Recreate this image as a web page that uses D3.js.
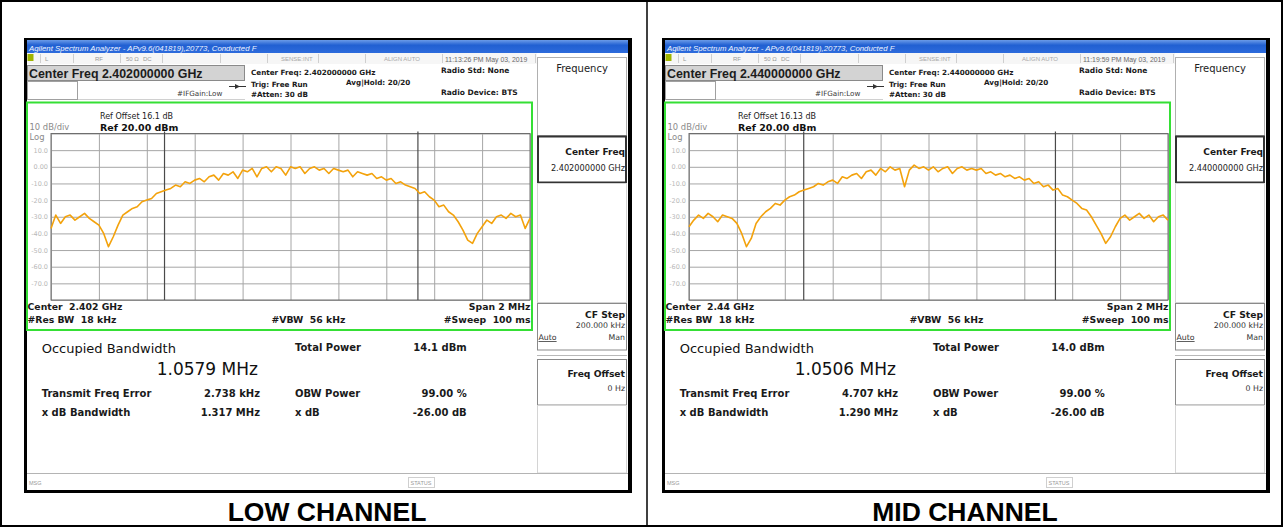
<!DOCTYPE html>
<html>
<head>
<meta charset="utf-8">
<script src="https://cdn.jsdelivr.net/npm/d3@7"></script>
<style>
    body { margin: 0; background: #fff; }
    svg { display: block; }
    text { white-space: pre; }
</style>
</head>
<body>
<svg id="SVG_CONTAINER" width="1283" height="527"></svg>
<script>
//** DATA *****************************************
const channelNames  = ["LOW CHANNEL", "MID CHANNEL"];
const centerFreqs   = ["2.402000000 GHz", "2.440000000 GHz"];
const centerShort   = ["2.402 GHz", "2.44 GHz"];
const refOffsets    = ["16.1 dB", "16.13 dB"];
const timeStamps    = ["11:13:26 PM May 03, 2019", "11:19:59 PM May 03, 2019"];
const obwValues     = ["1.0579 MHz", "1.0506 MHz"];
const totalPowers   = ["14.1 dBm", "14.0 dBm"];
const freqErrors    = ["2.738 kHz", "4.707 kHz"];
const xdbBandwidths = ["1.317 MHz", "1.290 MHz"];
const obwEdgesMHz   = [[-0.526, 0.532], [-0.521, 0.530]];

// trace levels (dBm), 101 sweep points across the 2 MHz span
const lowLevels = [
    -37, -29, -34, -30, -29, -32, -30, -28, -31, -33,
    -35, -40, -48, -42, -35, -29, -27, -25, -24, -21,
    -20, -19, -16, -15, -14, -13, -11, -12, -9, -10,
    -8, -7, -9, -6, -5, -8, -4, -5, -3, -7,
    -2, -3, -1, -6, -1, 0, -3, 0, -1, -5,
    0, -1, 0, -4, -1, 0, -2, -1, -4, -1,
    -2, -3, -2, -6, -3, -4, -5, -4, -7, -6,
    -8, -7, -10, -9, -11, -12, -13, -16, -15, -18,
    -20, -24, -23, -27, -29, -33, -38, -44, -46, -40,
    -36, -32, -34, -30, -29, -31, -28, -30, -29, -37, -31
];
const midLevels = [
    -36, -32, -29, -31, -28, -30, -33, -29, -30, -31,
    -34, -40, -48, -43, -34, -30, -27, -25, -22, -23,
    -20, -18, -17, -15, -14, -13, -12, -10, -11, -9,
    -8, -10, -6, -7, -5, -4, -7, -3, -2, -5,
    -1, -3, 0, -2, -1, -12, -2, 1, -1, 0,
    -2, 0, -3, -1, 0, -4, -1, 0, -2, -1,
    -2, -1, -4, -3, -5, -4, -6, -5, -7, -6,
    -8, -7, -10, -9, -12, -11, -14, -13, -17, -18,
    -20, -22, -25, -26, -30, -35, -40, -46, -42, -36,
    -31, -29, -32, -30, -28, -31, -29, -33, -30, -29, -32
];
const traces = [lowLevels, midLevels];

const yTickValues = [10, 0, -10, -20, -30, -40, -50, -60, -70];
const yTickLabels = ["10.0", "0.00", "-10.0", "-20.0", "-30.0", "-40.0", "-50.0", "-60.0", "-70.0"];
const yGridValues = [20, 10, 0, -10, -20, -30, -40, -50, -60, -70, -80];
const xGridMHz    = [-1, -0.8, -0.6, -0.4, -0.2, 0, 0.2, 0.4, 0.6, 0.8, 1];

//** LAYOUT *****************************************
const width = 1283, height = 527;
const PANEL_SHIFT = 638;
const GRID = {"LEFT": 51, "RIGHT": 530, "TOP": 133.5, "BOTTOM": 300};
const DV = "DejaVu Sans";
const LS = "Liberation Sans, Arial, sans-serif";

let svg = d3.select("#SVG_CONTAINER");

// page frame and divider
svg.append("rect").attr("x", 1).attr("y", 1).attr("width", width - 2).attr("height", height - 2)
    .attr("fill", "#fff").attr("stroke", "#000").attr("stroke-width", 2);
svg.append("line").attr("x1", 647).attr("x2", 647).attr("y1", 1).attr("y2", height - 1)
    .attr("stroke", "#000").attr("stroke-width", 1.5);

let grad = svg.append("defs").append("linearGradient").attr("id", "titleGrad")
    .attr("x1", 0).attr("y1", 0).attr("x2", 0).attr("y2", 1);
grad.append("stop").attr("offset", "0%").attr("stop-color", "#6b9be8");
grad.append("stop").attr("offset", "40%").attr("stop-color", "#2160d2");
grad.append("stop").attr("offset", "100%").attr("stop-color", "#2d6bdc");

// scales shared by both screens
let xScale = d3.scaleLinear().domain([-1, 1]).range([GRID.LEFT, GRID.RIGHT]);
let yScale = d3.scaleLinear().domain([-80, 20]).range([GRID.BOTTOM, GRID.TOP]);

drawPanel = function(k)
{
    let g = svg.append("g").attr("transform", "translate(" + (k * PANEL_SHIFT) + ",0)");

    let T = function(x, y, s, size, opt) {
        opt = opt || {};
        return g.append("text")
            .attr("x", x).attr("y", y)
            .attr("font-family", opt.family || DV)
            .attr("font-size", size)
            .attr("font-weight", opt.bold ? "bold" : "normal")
            .attr("font-style", opt.italic ? "italic" : "normal")
            .attr("fill", opt.fill || "#1a1a1a")
            .attr("text-anchor", opt.anchor || "start")
            .text(s);
    };
    let box = function(x, y, w, h, stroke, fill, sw) {
        return g.append("rect").attr("x", x).attr("y", y).attr("width", w).attr("height", h)
            .attr("fill", fill || "none").attr("stroke", stroke).attr("stroke-width", sw || 1);
    };
    let hline = function(x1, x2, y, c) {
        g.append("line").attr("x1", x1).attr("x2", x2).attr("y1", y).attr("y2", y).attr("stroke", c);
    };
    let vline = function(x, y1, y2, c) {
        g.append("line").attr("x1", x).attr("x2", x).attr("y1", y1).attr("y2", y2).attr("stroke", c);
    };

    //** SCREEN FRAME *****************************************
    g.append("rect").attr("x", 24).attr("y", 38).attr("width", 608).attr("height", 455).attr("fill", "#000");
    g.append("rect").attr("x", 27).attr("y", 40).attr("width", 601).attr("height", 450).attr("fill", "#fff");

    // title bar
    g.append("rect").attr("x", 27).attr("y", 40).attr("width", 601).attr("height", 13).attr("fill", "url(#titleGrad)");
    T(29, 50.5, "Agilent Spectrum Analyzer - APv9.6(041819),20773, Conducted F", 7.8,
        {family: LS, italic: true, fill: "#eef3ff"});

    // status row
    g.append("rect").attr("x", 27).attr("y", 53).attr("width", 510).attr("height", 11).attr("fill", "#f6f6f6");
    g.append("rect").attr("x", 27.5).attr("y", 54).attr("width", 6).attr("height", 7).attr("fill", "#9fb400");
    [40, 73, 120, 162, 220, 267, 318, 365, 442, 535].forEach(function(x) { vline(x + 0.5, 54, 63, "#cfcfcf"); });
    T(45, 61, "L", 6, {family: LS, fill: "#9a9a9a"});
    T(95, 61, "RF", 6, {family: LS, fill: "#9a9a9a"});
    T(126, 61, "50 Ω", 6, {family: LS, fill: "#9a9a9a"});
    T(143, 61, "DC", 6, {family: LS, fill: "#9a9a9a"});
    T(281, 61, "SENSE:INT", 6, {family: LS, fill: "#a8a8a8"});
    T(384, 61, "ALIGN AUTO", 6, {family: LS, fill: "#a8a8a8"});
    T(445, 61.5, timeStamps[k], 6.9, {family: LS, fill: "#6a6a6a"});

    // center freq header
    box(27.5, 65.5, 217, 15, "#8a8a8a", "#d3d3d3");
    T(29, 77.5, "Center Freq " + centerFreqs[k], 12.4, {family: LS, bold: true, fill: "#1c1c1c"});
    box(27.5, 81.5, 50, 18, "#a0a0a0", "#fff");
    hline(78, 245, 99.5, "#d0d0d0");
    T(177, 95.5, "#IFGain:Low", 7.2, {fill: "#3a3a3a"});
    hline(229, 246, 86.5, "#333");
    g.append("path").attr("d", "M235,84 L240,86.5 L235,89 Z").attr("fill", "#333");

    T(251, 75, "Center Freq: " + centerFreqs[k], 7.2, {bold: true});
    T(251, 87.3, "Trig: Free Run", 7.2, {bold: true});
    T(251, 96.5, "#Atten: 30 dB", 7.2, {bold: true});
    T(346, 84.5, "Avg|Hold: 20/20", 7.2, {bold: true});
    T(441, 73, "Radio Std: None", 7.5, {bold: true});
    T(441, 95, "Radio Device: BTS", 7.5, {bold: true});

    //** SOFT KEY PANEL *****************************************
    box(537.5, 57.5, 89, 78, "#b0b0b0", "#fff");
    T(582, 71.5, "Frequency", 10, {anchor: "middle", fill: "#222"});
    box(538, 136.5, 88, 46, "#333", "#fff", 2);
    T(625, 155, "Center Freq", 9, {bold: true, anchor: "end"});
    T(625, 170.5, centerFreqs[k], 8.2, {anchor: "end", fill: "#222"});
    box(537.5, 183.5, 89, 119, "#d4d4d4", "#fff");
    box(537.5, 303.5, 89, 46.5, "#8a8a8a", "#fff");
    T(625, 318, "CF Step", 9.2, {bold: true, anchor: "end"});
    T(625, 327.5, "200.000 kHz", 7.8, {anchor: "end", fill: "#333"});
    T(538.5, 340, "Auto", 7.8, {fill: "#333"}).attr("text-decoration", "underline");
    T(625, 340, "Man", 7.8, {anchor: "end", fill: "#333"});
    hline(537, 627, 355.5, "#b8b8b8");
    box(537.5, 359.5, 89, 45.5, "#8a8a8a", "#fff");
    T(625, 377, "Freq Offset", 9.2, {bold: true, anchor: "end"});
    T(625, 391, "0 Hz", 7.8, {anchor: "end", fill: "#333"});
    box(537.5, 405.5, 89, 67.5, "#d4d4d4", "#fff");

    //** GRAPH *****************************************
    T(100, 119.3, "Ref Offset " + refOffsets[k], 8, {fill: "#222"});
    T(100, 130.5, "Ref 20.00 dBm", 9.5, {bold: true, fill: "#111"});
    T(29.5, 129.5, "10 dB/div", 8.4, {fill: "#8a8a8a"});
    T(29.5, 139.5, "Log", 8.4, {fill: "#8a8a8a"});

    // horizontal grid + level labels
    let yAxis = d3.axisLeft(yScale)
        .tickValues(yGridValues)
        .tickSize(-(GRID.RIGHT - GRID.LEFT))
        .tickPadding(3)
        .tickFormat(function(d) {
            let i = yTickValues.indexOf(d);
            return i < 0 ? "" : yTickLabels[i];
        });
    let ya = g.append("g").attr("transform", "translate(" + GRID.LEFT + ",0)").call(yAxis);
    ya.select(".domain").remove();
    ya.selectAll(".tick line").attr("stroke", "#a6a6a6");
    ya.selectAll(".tick text").attr("font-family", DV).attr("font-size", 6.5).attr("fill", "#b8b8b8");

    // vertical grid
    let xAxis = d3.axisBottom(xScale)
        .tickValues(xGridMHz)
        .tickSize(-(GRID.BOTTOM - GRID.TOP))
        .tickFormat("");
    let xa = g.append("g").attr("transform", "translate(0," + GRID.BOTTOM + ")").call(xAxis);
    xa.select(".domain").remove();
    xa.selectAll(".tick line").attr("stroke", "#a6a6a6");

    box(GRID.LEFT, GRID.TOP, GRID.RIGHT - GRID.LEFT, GRID.BOTTOM - GRID.TOP, "#6e6e6e");

    // occupied bandwidth markers
    obwEdgesMHz[k].forEach(function(f) {
        g.append("line")
            .attr("x1", xScale(f)).attr("x2", xScale(f))
            .attr("y1", GRID.TOP - 2).attr("y2", GRID.BOTTOM)
            .attr("stroke", "#4a4a4a").attr("stroke-width", 1.2);
    });

    // spectrum trace
    let levels = traces[k];
    let idxToMHz = d3.scaleLinear().domain([0, levels.length - 1]).range([-1, 1]);
    let line = d3.line()
        .x(function(d, i) { return xScale(idxToMHz(i)); })
        .y(function(d) { return yScale(d); });
    g.append("path")
        .datum(levels)
        .attr("d", line)
        .attr("fill", "none")
        .attr("stroke", "#f3a20c")
        .attr("stroke-width", 1.6)
        .attr("stroke-linejoin", "round");

    // green frame
    box(27, 102.5, 505, 227.5, "#35df35", "none", 2);

    T(27.5, 310, "Center  " + centerShort[k], 9.3, {bold: true});
    T(27.5, 322.7, "#Res BW  18 kHz", 9.3, {bold: true});
    T(271.5, 322.7, "#VBW  56 kHz", 9.3, {bold: true});
    T(530.5, 310, "Span 2 MHz", 9.3, {bold: true, anchor: "end"});
    T(530.5, 322.7, "#Sweep  100 ms", 9.3, {bold: true, anchor: "end"});

    //** MEASUREMENT RESULTS *****************************************
    T(41.7, 353.3, "Occupied Bandwidth", 13, {fill: "#111"});
    T(156.7, 375, obwValues[k], 17, {fill: "#111"});
    T(41.7, 397.3, "Transmit Freq Error", 10, {bold: true});
    T(41.7, 415.5, "x dB Bandwidth", 10, {bold: true});
    T(260, 397.3, freqErrors[k], 10, {bold: true, anchor: "end"});
    T(260, 415.5, xdbBandwidths[k], 10, {bold: true, anchor: "end"});
    T(295, 350.5, "Total Power", 10, {bold: true});
    T(466.7, 350.5, totalPowers[k], 10, {bold: true, anchor: "end"});
    T(295, 397.3, "OBW Power", 10, {bold: true});
    T(466.7, 397.3, "99.00 %", 10, {bold: true, anchor: "end"});
    T(295, 415.5, "x dB", 10, {bold: true});
    T(466.7, 415.5, "-26.00 dB", 10, {bold: true, anchor: "end"});

    // status bar
    hline(27, 628, 473.5, "#b4b4b4");
    T(29, 485, "MSG", 5.5, {family: LS, fill: "#999"});
    box(408.5, 477.5, 26, 10, "#cfcfcf");
    T(410.5, 485, "STATUS", 5.5, {family: LS, fill: "#999"});

    //** CAPTION *****************************************
    T(327, 521, channelNames[k], 26.5, {family: LS, bold: true, anchor: "middle", fill: "#000"});
};

for (let k = 0; k < channelNames.length; k++) {
    drawPanel(k);
}
</script>
</body>
</html>
